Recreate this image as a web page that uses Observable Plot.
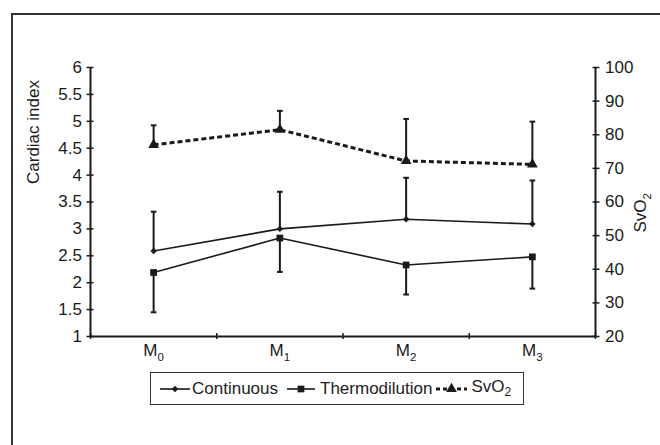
<!DOCTYPE html>
<html><head><meta charset="utf-8">
<script src="https://cdn.jsdelivr.net/npm/d3@7"></script>
<script src="https://cdn.jsdelivr.net/npm/@observablehq/plot@0.6"></script>
<style>
body{margin:0;background:#fff;font-family:"Liberation Sans",Arial,sans-serif;}
#wrap{position:relative;width:660px;height:445px;overflow:hidden;background:#fff;}
#border{position:absolute;left:11px;top:13px;right:-10px;bottom:-10px;border-left:2px solid #333;border-top:2px solid #333;}
#chart{position:absolute;left:0;top:0;}
#legend{position:absolute;left:150px;top:372px;width:372px;height:31px;border:1px solid #333;display:flex;align-items:center;font-size:17px;color:#222;white-space:nowrap;}
#legend svg{display:block;}
</style></head>
<body>
<div id="wrap"><div id="border"></div><div id="chart"></div><div id="legend"></div></div>
<script>
// ---- data ----
const categories = ["M0", "M1", "M2", "M3"];
const continuous = [2.59, 3.00, 3.18, 3.09];
const continuousHi = [3.32, 3.69, 3.95, 3.90];
const thermodilution = [2.19, 2.83, 2.33, 2.48];
const thermodilutionLo = [1.45, 2.20, 1.78, 1.89];
const svo2 = [77.0, 81.5, 72.2, 71.2];
const svo2Hi = [82.8, 87.1, 84.7, 83.9];
const ciTicks = [1, 1.5, 2, 2.5, 3, 3.5, 4, 4.5, 5, 5.5, 6];
const svTicks = [20, 30, 40, 50, 60, 70, 80, 90, 100];
const seriesNames = ["Continuous", "Thermodilution", "SvO2"];
const leftTitle = "Cardiac index";
const rightTitle = "SvO2";

// map SvO2 (20..100) onto the Cardiac index scale (1..6)
const toCI = s => 1 + (s - 20) / 16;
const fromCI = v => Math.round(20 + (v - 1) * 16);

const idx = categories.map((_, i) => i);
const contRows = idx.map(i => ({x: i, y: continuous[i], e: continuousHi[i]}));
const thermoRows = idx.map(i => ({x: i, y: thermodilution[i], e: thermodilutionLo[i]}));
const svRows = idx.map(i => ({x: i, y: toCI(svo2[i]), e: toCI(svo2Hi[i])}));

const cap = {draw(ctx, size) { const w = Math.sqrt(size) / 2; ctx.moveTo(-w, 0); ctx.lineTo(w, 0); }};
const ink = "#1a1a1a";
const bounds = [-0.5, 0.5, 1.5, 2.5, 3.5];
const FS = 17;

const errMarks = (rows) => [
  Plot.ruleX(rows, {x: "x", y1: "y", y2: "e", stroke: ink, strokeWidth: 2}),
  Plot.dot(rows, {x: "x", y: "e", symbol: cap, r: 3.2, stroke: ink, strokeWidth: 2, fill: "none"})
];

const chart = Plot.plot({
  width: 660, height: 365,
  marginLeft: 90, marginRight: 65, marginTop: 67, marginBottom: 29,
  style: {fontFamily: '"Liberation Sans", Arial, sans-serif', fontSize: "17px", color: ink, background: "transparent"},
  x: {type: "linear", domain: [-0.5, 3.5]},
  y: {domain: [1, 6]},
  marks: [
    ...errMarks(contRows),
    ...errMarks(thermoRows),
    ...errMarks(svRows),
    Plot.line(contRows, {x: "x", y: "y", stroke: ink, strokeWidth: 1.6}),
    Plot.line(thermoRows, {x: "x", y: "y", stroke: ink, strokeWidth: 1.6}),
    Plot.line(svRows, {x: "x", y: "y", stroke: ink, strokeWidth: 3, strokeDasharray: "5,3", strokeLinecap: "butt"}),
    Plot.dot(contRows, {x: "x", y: "y", symbol: "diamond2", r: 2.9, fill: ink}),
    Plot.dot(thermoRows, {x: "x", y: "y", symbol: "square", r: 3.8, fill: ink}),
    Plot.dot(svRows, {x: "x", y: "y", symbol: "triangle", r: 4, fill: ink}),
    // axis lines
    Plot.ruleY([1], {stroke: ink, strokeWidth: 2}),
    Plot.ruleX([-0.5, 3.5], {stroke: ink, strokeWidth: 2}),
    // axes
    Plot.axisY({anchor: "left", ticks: ciTicks, tickFormat: d => String(d), tickSize: 7, dx: 3.5, tickPadding: 5, label: null, stroke: ink, strokeWidth: 1.5, fontSize: FS, fill: ink}),
    Plot.axisY({anchor: "right", ticks: svTicks.map(toCI), tickFormat: d => String(fromCI(d)), tickSize: 7, dx: -3.5, tickPadding: 6, label: null, stroke: ink, strokeWidth: 1.5, fontSize: FS, fill: ink}),
    Plot.axisX({anchor: "bottom", ticks: bounds, tickFormat: () => "", tickSize: 6, dy: -3, label: null, stroke: ink, strokeWidth: 1.5}),
    Plot.axisX({anchor: "bottom", ticks: idx, tickFormat: i => categories[i], tickSize: 0, tickPadding: 7, label: null, fontSize: FS, fill: ink}),
    Plot.text([leftTitle], {frameAnchor: "left", rotate: -90, dx: -56.5, dy: -18, fill: ink, fontSize: 17}),
    Plot.text([rightTitle], {frameAnchor: "right", rotate: -90, dx: 45, dy: -9, fill: ink, fontSize: 17})
  ]
});
document.getElementById("chart").appendChild(chart);

// subscripts
function subscriptify(el) {
  d3.select(el).selectAll("text").each(function () {
    const t = this.textContent;
    const m = t.match(/^(M|SvO)(\d)$/);
    if (!m) return;
    const sel = d3.select(this);
    sel.text(null);
    sel.append("tspan").text(m[1]);
    sel.append("tspan").attr("font-size", "11.5px").attr("dy", "5").text(m[2]);
  });
}
subscriptify(chart);

// legend
const legend = d3.select("#legend");
function sample(kind, w, ml) {
  const s = legend.append("svg").attr("width", w).attr("height", 16).style("margin-left", ml + "px");
  s.append("line").attr("x1", 0).attr("x2", w).attr("y1", 8).attr("y2", 8)
    .attr("stroke", ink).attr("stroke-width", kind === "tri" ? 3 : 1.6)
    .attr("stroke-dasharray", kind === "tri" ? "4,3" : null);
  const sym = kind === "dia" ? d3.symbolDiamond2 : kind === "sq" ? d3.symbolSquare : d3.symbolTriangle;
  const size = kind === "dia" ? 26 : kind === "sq" ? 45 : 50;
  s.append("path").attr("d", d3.symbol(sym, size)()).attr("transform", `translate(${w / 2},8)`).attr("fill", ink);
}
function label(txt, ml) {
  const sp = legend.append("span").style("margin-left", ml + "px");
  const m = txt.match(/^(SvO)(\d)$/);
  if (m) { sp.append("span").text(m[1]); sp.append("sub").style("font-size", "12px").text(m[2]); }
  else sp.text(txt);
}
sample("dia", 30, 9); label(seriesNames[0], 2);
sample("sq", 28, 9); label(seriesNames[1], 5);
sample("tri", 31, 4); label(seriesNames[2], 4);
</script>
</body></html>
